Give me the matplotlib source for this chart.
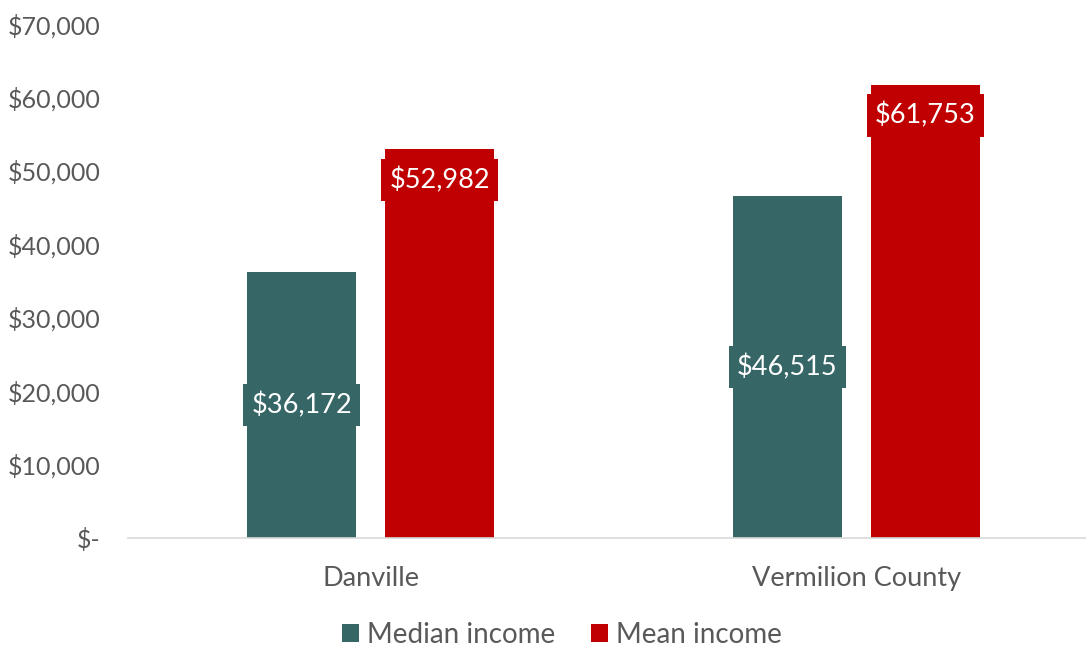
import matplotlib

matplotlib.use("Agg")
import matplotlib.pyplot as plt
import numpy as np
from matplotlib.ticker import FuncFormatter

# Income figures by area
areas = ["Danville", "Vermilion County"]
median_income = [36172, 46515]
mean_income = [52982, 61753]
series_names = ["Median income", "Mean income"]

TEAL = "#376666"
RED = "#C00000"
GREY = "#595959"

plt.rcParams["font.family"] = ["Lato", "DejaVu Sans"]

fig = plt.figure(figsize=(10.86, 6.48), dpi=100)
ax = fig.add_axes([128 / 1086, (648 - 538) / 648, 1 - 128 / 1086 + 0.012, (538 - 24) / 648])

x = np.arange(len(areas))
width = 0.225
offset = 0.142
bars_med = ax.bar(x - offset, median_income, width, color=TEAL, label=series_names[0])
bars_mean = ax.bar(x + offset, mean_income, width, color=RED, label=series_names[1])

label_box = dict(boxstyle="square,pad=0.3", linewidth=0)
for rect, val in zip(bars_med, median_income):
    ax.text(rect.get_x() + rect.get_width() / 2, val / 2, f"${val:,}",
            ha="center", va="center", color="white", fontsize=19.5,
            bbox={**label_box, "facecolor": TEAL})
for rect, val in zip(bars_mean, mean_income):
    ax.text(rect.get_x() + rect.get_width() / 2, val - 4200, f"${val:,}",
            ha="center", va="center", color="white", fontsize=19.5,
            bbox={**label_box, "facecolor": RED})

ax.set_ylim(0, 70000)
ax.set_xlim(-0.5, 1.5)
ax.set_yticks(np.arange(0, 70001, 10000))
ax.yaxis.set_major_formatter(FuncFormatter(lambda v, _: "$-" if v == 0 else f"${v:,.0f}"))
ax.set_xticks(x)
ax.set_xticklabels(areas)

for side in ["top", "right", "left"]:
    ax.spines[side].set_visible(False)
ax.spines["bottom"].set_color("#D9D9D9")
ax.spines["bottom"].set_linewidth(1.2)
ax.tick_params(axis="both", length=0, colors=GREY)
ax.tick_params(axis="y", labelsize=18, pad=20)
ax.tick_params(axis="x", labelsize=19.5, pad=20)

fig.legend(loc="center", bbox_to_anchor=(562 / 1086, 13 / 648), ncol=2, frameon=False,
           fontsize=20, labelcolor=GREY, handlelength=0.6, handleheight=0.6,
           handletextpad=0.3, columnspacing=1.3)

fig.savefig("out.png", dpi=100)
